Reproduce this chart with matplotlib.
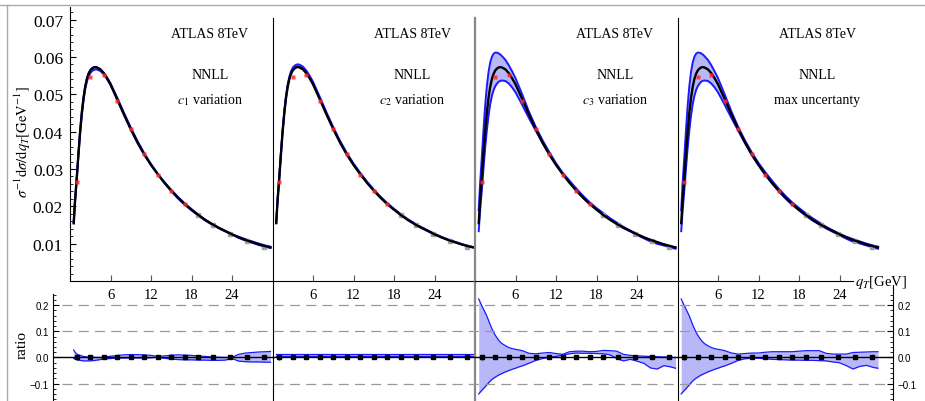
import numpy as np
import matplotlib.pyplot as plt
from matplotlib.lines import Line2D
from matplotlib.ticker import MultipleLocator, FixedLocator, FuncFormatter

plt.rcParams['font.family'] = ['Liberation Serif', 'DejaVu Serif']
plt.rcParams['mathtext.fontset'] = 'stix'

# --- theory curve (NNLL central value) on a qT grid --------------------------
qt = [0.55, 0.75, 1.0, 1.25, 1.5, 1.75, 2.0, 2.25, 2.5, 2.75, 3.0, 3.25, 3.5,
      3.75, 4.0, 4.5, 5.0, 5.5, 6.0, 6.5, 7.0, 8.0, 9.0, 10.0, 11.0, 12.0,
      13.0, 14.0, 15.0, 16.0, 17.0, 18.0, 19.0, 20.0, 21.0, 22.0, 23.0, 24.0,
      25.0, 26.0, 27.0, 28.0, 29.0, 29.7]
central = [0.0155, 0.0215, 0.0275, 0.0340, 0.0400, 0.0450, 0.0490, 0.0520,
           0.0541, 0.0555, 0.0564, 0.0569, 0.0572, 0.0573, 0.0572, 0.0567,
           0.0557, 0.0543, 0.0527, 0.0507, 0.0487, 0.0446, 0.0407, 0.0371,
           0.0339, 0.0311, 0.0286, 0.0263, 0.0242, 0.0223, 0.0206, 0.0191,
           0.0177, 0.0164, 0.0153, 0.0143, 0.0134, 0.0125, 0.0117, 0.0110,
           0.0104, 0.0098, 0.0093, 0.0090]

# relative variation bands (upper / lower) for each panel
c1_hi = [0.028, 0.020, 0.014, 0.010, 0.008, 0.006, 0.004, 0.003, 0.002, 0.002,
         0.001, 0.001, 0.001, 0.000, 0.000, 0.000, 0.001, 0.003, 0.005, 0.006,
         0.008, 0.010, 0.011, 0.011, 0.010, 0.008, 0.004, 0.006, 0.009, 0.010,
         0.009, 0.008, 0.006, 0.004, 0.002, 0.001, 0.000, 0.001, 0.012, 0.017,
         0.019, 0.021, 0.022, 0.023]
c1_lo = [-0.004, -0.006, -0.008, -0.010, -0.011, -0.012, -0.013, -0.013,
         -0.013, -0.013, -0.013, -0.012, -0.012, -0.011, -0.010, -0.008,
         -0.006, -0.005, -0.004, -0.003, -0.003, -0.002, -0.002, -0.002,
         -0.002, -0.001, 0.001, -0.003, -0.006, -0.008, -0.009, -0.009,
         -0.010, -0.010, -0.011, -0.011, -0.010, -0.004, -0.014, -0.016,
         -0.017, -0.017, -0.018, -0.018]
c2_hi = [0.013, 0.013, 0.013, 0.013, 0.013, 0.013, 0.013, 0.013, 0.013, 0.013,
         0.013, 0.013, 0.013, 0.013, 0.013, 0.013, 0.013, 0.013, 0.013, 0.013,
         0.013, 0.013, 0.013, 0.013, 0.013, 0.013, 0.013, 0.013, 0.013, 0.013,
         0.013, 0.013, 0.013, 0.013, 0.013, 0.013, 0.013, 0.013, 0.013, 0.013,
         0.013, 0.013, 0.013, 0.013]
c2_lo = [0.004, 0.004, 0.004, 0.004, 0.004, 0.004, 0.004, 0.004, 0.004, 0.004,
         0.004, 0.004, 0.004, 0.004, 0.004, 0.004, 0.004, 0.004, 0.004, 0.004,
         0.004, 0.004, 0.004, 0.004, 0.004, 0.004, 0.004, 0.004, 0.004, 0.004,
         0.004, 0.004, 0.004, 0.004, 0.004, 0.004, 0.004, 0.004, 0.004, 0.004,
         0.004, 0.004, 0.004, 0.004]
c3_hi = [0.223, 0.212, 0.198, 0.185, 0.172, 0.158, 0.142, 0.125, 0.110, 0.097,
         0.085, 0.075, 0.066, 0.059, 0.053, 0.045, 0.038, 0.034, 0.031, 0.029,
         0.026, 0.016, 0.014, 0.017, 0.019, 0.015, 0.012, 0.022, 0.024, 0.024,
         0.022, 0.023, 0.027, 0.026, 0.024, 0.012, 0.008, 0.006, 0.005, 0.004,
         0.003, 0.002, 0.001, 0.000]
c3_lo = [-0.139, -0.133, -0.126, -0.119, -0.112, -0.105, -0.097, -0.090,
         -0.084, -0.079, -0.075, -0.071, -0.067, -0.064, -0.061, -0.055,
         -0.050, -0.045, -0.041, -0.036, -0.032, -0.022, -0.011, -0.004,
         0.001, 0.004, 0.009, 0.014, 0.017, 0.016, 0.016, 0.015, 0.014,
         0.010, -0.004, -0.013, -0.007, -0.014, -0.022, -0.040, -0.044,
         -0.031, -0.036, -0.041]
max_hi = [0.223, 0.212, 0.198, 0.185, 0.172, 0.158, 0.142, 0.125, 0.110,
          0.097, 0.085, 0.075, 0.066, 0.059, 0.053, 0.045, 0.038, 0.034,
          0.031, 0.029, 0.026, 0.017, 0.013, 0.015, 0.017, 0.017, 0.020,
          0.022, 0.022, 0.022, 0.022, 0.024, 0.026, 0.026, 0.026, 0.016,
          0.013, 0.013, 0.013, 0.019, 0.020, 0.021, 0.022, 0.022]
max_lo = [-0.139, -0.133, -0.126, -0.119, -0.112, -0.105, -0.097, -0.090,
          -0.084, -0.079, -0.075, -0.071, -0.067, -0.064, -0.061, -0.055,
          -0.050, -0.045, -0.041, -0.036, -0.032, -0.022, -0.011, -0.005,
          -0.003, -0.003, -0.005, -0.007, -0.008, -0.009, -0.010, -0.010,
          -0.011, -0.011, -0.012, -0.013, -0.017, -0.020, -0.031, -0.044,
          -0.034, -0.030, -0.038, -0.041]

# --- ATLAS 8 TeV measurement --------------------------------------------------
data_qt = [1, 3, 5, 7, 9, 11, 13, 15, 17, 19, 21.25, 23.75, 26.25, 28.75]
data_val = [0.0265, 0.0547, 0.0553, 0.0483, 0.0406, 0.0339, 0.0285, 0.0241,
            0.0205, 0.0177, 0.0150, 0.0127, 0.0106, 0.0090]
data_relerr = [0.010, 0.006, 0.006, 0.006, 0.006, 0.006, 0.006, 0.006, 0.006,
               0.006, 0.006, 0.006, 0.006, 0.006]
n_fit = 9  # points below 18 GeV are the fitted ones

panel_labels = [r'$c_1$ variation', r'$c_2$ variation', r'$c_3$ variation',
                'max uncertanty']
bands = [(c1_hi, c1_lo), (c2_hi, c2_lo), (c3_hi, c3_lo), (max_hi, max_lo)]

BLUE = '#1a1aff'
FILL = '#b8b8f8'

W, H = 925, 402


def box(x0, y0, x1, y1):
    # pixel rectangle (top-left origin) -> figure fraction
    return [x0 / W, 1 - y1 / H, (x1 - x0) / W, (y1 - y0) / H]


fig = plt.figure(figsize=(W / 100, H / 100), dpi=100)
lefts = [70, 272.5, 475, 677.5]
pw = 202.5

qt_a = np.array(qt)
cen = np.array(central)

# ratio panels
for i, x0 in enumerate(lefts):
    ax = fig.add_axes(box(x0, 283, x0 + pw, 402))
    ax.set_facecolor('none')
    hi, lo = bands[i]
    ax.fill_between(qt_a, lo, hi, color=FILL, lw=0)
    ax.plot(qt_a, hi, color=BLUE, lw=0.9)
    ax.plot(qt_a, lo, color=BLUE, lw=0.9)
    ax.errorbar(data_qt, np.zeros(len(data_qt)), yerr=data_relerr, fmt='s',
                ms=2.2, color='black', ecolor='black', elinewidth=1.0,
                capsize=0, zorder=5)
    ax.set_xlim(0, 30)
    ax.set_ylim(-0.166, 0.288)
    for s in ['top', 'right', 'bottom']:
        ax.spines[s].set_visible(False)
    if i == 0:
        ax.spines['left'].set_visible(False)
    elif i == 2:
        ax.spines['left'].set_color('#888888')
        ax.spines['left'].set_linewidth(1.6)
    else:
        ax.spines['left'].set_linewidth(0.8)
    ax.set_xticks([])
    ax.set_yticks([])

# shared ratio frame: dashed guides, zero line, outer y axes
axr = fig.add_axes(box(53, 283, 893, 402))
axr.set_facecolor('none')
axr.set_xlim(0, 1)
axr.set_ylim(-0.166, 0.288)
x_a, x_b = 9 / 840, 837 / 840
for yv in [0.2, 0.1, -0.1]:
    axr.plot([x_a, x_b], [yv, yv], color='#999999', lw=0.9, dashes=(8, 5))
axr.plot([0, 1], [0, 0], color='black', lw=1.0)
axr.spines['top'].set_visible(False)
axr.spines['bottom'].set_visible(False)
axr.spines['left'].set_bounds(-0.166, 0.243)
axr.spines['right'].set_bounds(-0.166, 0.277)
for s in ['left', 'right']:
    axr.spines[s].set_linewidth(0.8)
axr.set_xticks([])
axr.yaxis.set_ticks_position('both')
axr.yaxis.set_major_locator(FixedLocator([-0.1, 0.0, 0.1, 0.2]))
axr.yaxis.set_minor_locator(FixedLocator(np.arange(-0.16, 0.245, 0.02)))
axr.yaxis.set_major_formatter(
    FuncFormatter(lambda v, _: f'{v:.1f}'.replace('-', '\u2212') if abs(v) > 1e-9 else '0.0'))
axr.tick_params(axis='y', which='major', direction='in', length=4, width=0.8,
                labelleft=True, labelright=True, labelsize=7, pad=3)
axr.tick_params(axis='y', which='minor', direction='in', length=2.2, width=0.6)
for lab in axr.get_yticklabels():
    lab.set_family('Liberation Sans')

# spectrum panels
for i, x0 in enumerate(lefts):
    ax = fig.add_axes(box(x0, 8, x0 + pw, 282))
    ax.set_facecolor('none')
    hi, lo = bands[i]
    up = cen * (1 + np.array(hi))
    dn = cen * (1 + np.array(lo))
    ax.fill_between(qt_a, dn, up, color=FILL, lw=0)
    ax.plot(qt_a, up, color=BLUE, lw=1.4)
    ax.plot(qt_a, dn, color=BLUE, lw=1.4)
    ax.plot(data_qt[n_fit:], data_val[n_fit:], 's', ms=3, color='#a0a0a0',
            zorder=2)
    ax.plot(qt_a, cen, color='black', lw=1.7, zorder=3)
    ax.plot(data_qt[:n_fit], data_val[:n_fit], 's', ms=3.4, color='#ff2a2a',
            alpha=0.85, mec='none', zorder=4)
    ax.set_xlim(0, 30)
    ax.set_ylim(0, 0.0734)
    ax.spines['top'].set_visible(False)
    ax.spines['right'].set_visible(False)
    ax.spines['bottom'].set_linewidth(0.8)
    if i == 0:
        ax.spines['left'].set_linewidth(0.8)
        ax.set_yticks([0.01, 0.02, 0.03, 0.04, 0.05, 0.06, 0.07])
        ax.yaxis.set_minor_locator(MultipleLocator(0.002))
        ax.yaxis.set_major_formatter(FuncFormatter(lambda v, _: f'{v:.2f}'))
        ax.tick_params(axis='y', which='major', direction='in', length=4,
                       width=0.8, labelsize=12.5, pad=5)
        ax.tick_params(axis='y', which='minor', direction='in', length=2.2,
                       width=0.6)
    else:
        ax.spines['left'].set_bounds(0, 0.0705)
        if i == 2:
            ax.spines['left'].set_color('#888888')
            ax.spines['left'].set_linewidth(1.6)
        else:
            ax.spines['left'].set_linewidth(0.8)
        ax.set_yticks([])
    if i == 3:
        ax.spines['bottom'].set_bounds(0, 26)
    ax.set_xticks([6, 12, 18, 24])
    ax.tick_params(axis='x', direction='in', length=4, width=0.8,
                   color='#555555', labelsize=10.5, pad=5)
    ax.text(0.69, 0.905, 'ATLAS 8TeV', transform=ax.transAxes, ha='center',
            va='center', fontsize=10)
    ax.text(0.69, 0.752, 'NNLL', transform=ax.transAxes, ha='center',
            va='center', fontsize=10)
    ax.text(0.69, 0.664, panel_labels[i], transform=ax.transAxes,
            ha='center', va='center', fontsize=10)

fig.text(855 / W, 1 - 283 / H, r'$q_T$[GeV]', ha='left', va='center',
         fontsize=10.5)
fig.text(23 / W, 1 - 142 / H,
         r'$\sigma^{-1}\mathrm{d}\sigma/\mathrm{d}q_T[\mathrm{GeV}^{-1}]$',
         rotation=90, ha='center', va='center', fontsize=10.5)
fig.text(22 / W, 1 - 345 / H, 'ratio', rotation=90, ha='center',
         va='center', fontsize=11)

# outer frame edges
fig.add_artist(Line2D([0, 1], [1 - 6 / H, 1 - 6 / H], transform=fig.transFigure,
                      color='#aaaaaa', lw=1.0))
fig.add_artist(Line2D([7 / W, 7 / W], [0, 1 - 6 / H], transform=fig.transFigure,
                      color='#aaaaaa', lw=1.0))

fig.savefig('out.png', dpi=100)
